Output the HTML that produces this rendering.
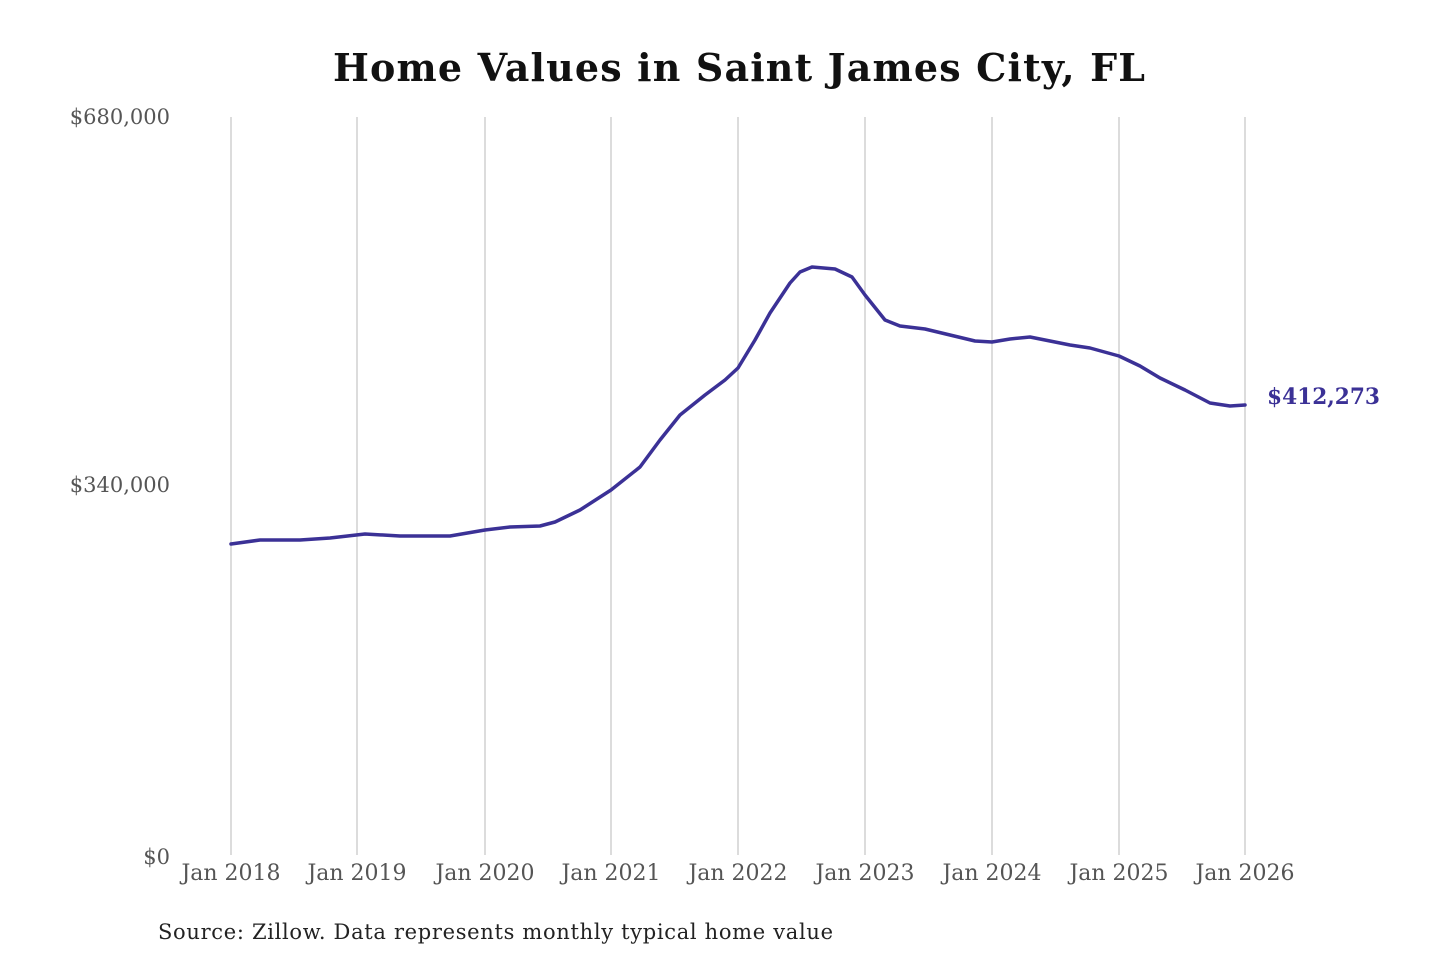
<!DOCTYPE html>
<html><head><meta charset="utf-8"><style>
html,body{margin:0;padding:0;background:#fff;}
svg{display:block;}
</style></head><body>
<svg width="1440" height="960" xmlns="http://www.w3.org/2000/svg" font-family="'DejaVu Serif','Liberation Serif',serif">
<rect width="1440" height="960" fill="#fff"/>
<text x="739" y="81" text-anchor="middle" font-size="38" font-weight="bold" fill="#111" textLength="812" lengthAdjust="spacing">Home Values in Saint James City, FL</text>
<g stroke="#c4c4c4" stroke-width="1.2">
<line x1="231" y1="117" x2="231" y2="855"/><line x1="357" y1="117" x2="357" y2="855"/>
<line x1="485" y1="117" x2="485" y2="855"/><line x1="611" y1="117" x2="611" y2="855"/>
<line x1="738" y1="117" x2="738" y2="855"/><line x1="865" y1="117" x2="865" y2="855"/>
<line x1="992" y1="117" x2="992" y2="855"/><line x1="1119" y1="117" x2="1119" y2="855"/>
<line x1="1245" y1="117" x2="1245" y2="855"/>
</g>
<g font-size="21" fill="#555" text-anchor="end">
<text x="170" y="124">$680,000</text>
<text x="170" y="492">$340,000</text>
<text x="170" y="864">$0</text>
</g>
<g font-size="22" fill="#555" text-anchor="middle">
<text x="231" y="880">Jan 2018</text><text x="357" y="880">Jan 2019</text>
<text x="485" y="880">Jan 2020</text><text x="611" y="880">Jan 2021</text>
<text x="738" y="880">Jan 2022</text><text x="865" y="880">Jan 2023</text>
<text x="992" y="880">Jan 2024</text><text x="1119" y="880">Jan 2025</text>
<text x="1245" y="880">Jan 2026</text>
</g>
<polyline fill="none" stroke="#3b3196" stroke-width="3.5" stroke-linejoin="round" stroke-linecap="round"
points="231,544 260,540 300,540 330,538 365,534 400,536 450,536 485,530 510,527 540,526 555,522 580,510 611,490 640,467 660,440 680,415 705,395 725,380 738,368 755,340 770,313 790,283 800,272 812,267 835,269 852,277 865,295 885,320 900,326 925,329 950,335 975,341 992,342 1010,339 1030,337 1050,341 1070,345 1090,348 1119,356 1140,366 1160,378 1185,390 1210,403 1230,406 1245,405"/>
<text x="1267" y="404" font-size="22" font-weight="bold" fill="#3b3196" textLength="113" lengthAdjust="spacingAndGlyphs">$412,273</text>
<text x="158" y="939" font-size="21" fill="#222" textLength="675" lengthAdjust="spacing">Source: Zillow. Data represents monthly typical home value</text>
</svg>
</body></html>
